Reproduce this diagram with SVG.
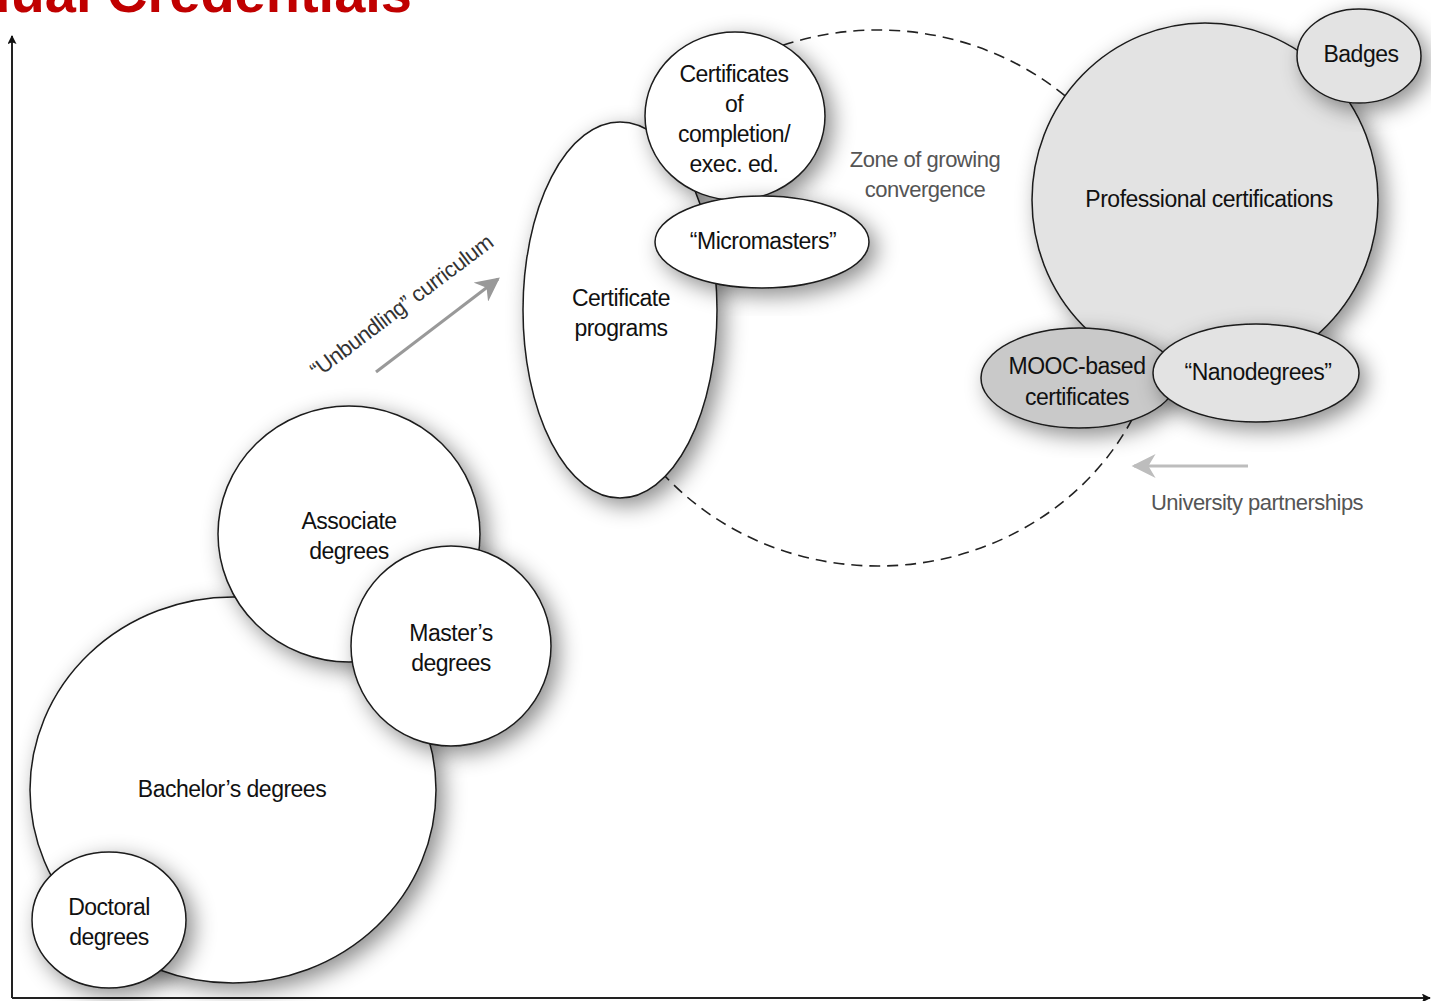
<svg xmlns="http://www.w3.org/2000/svg" width="1431" height="1001" viewBox="0 0 1431 1001">
<style>
.node{stroke:#1a1a1a;stroke-width:1.5;filter:url(#sh)}
.w{fill:#ffffff}
.g{fill:#e3e3e3}
.d{fill:#c9c9c9}
.t{font-family:"Liberation Sans",Arial,sans-serif;font-size:23px;letter-spacing:-0.5px;fill:#111;text-anchor:middle}
.lab{font-family:"Liberation Sans",Arial,sans-serif;font-size:22px;letter-spacing:-0.5px;fill:#555;text-anchor:middle}
.axis{stroke:#222;stroke-width:2;fill:none}
</style>
<defs>
<filter id="sh" x="-30%" y="-30%" width="160%" height="160%">
<feDropShadow dx="7" dy="7" stdDeviation="11" flood-color="#000" flood-opacity="0.45"/>
</filter>
<marker id="ah" viewBox="0 0 10 10" refX="9" refY="5" markerWidth="12" markerHeight="9" orient="auto" markerUnits="userSpaceOnUse">
<path d="M0,0 L10,5 L0,10 L2,5 z" fill="#111"/>
</marker>
<marker id="gah" viewBox="0 0 10 10" refX="9" refY="5" markerWidth="8" markerHeight="8" orient="auto">
<path d="M0,0 L10,5 L0,10 L3,5 z" fill="#999"/>
</marker>
<marker id="lah" viewBox="0 0 10 10" refX="9" refY="5" markerWidth="9" markerHeight="8" orient="auto">
<path d="M0,0 L10,5 L0,10 L3,5 z" fill="#bdbdbd"/>
</marker>
</defs>
<rect width="1431" height="1001" fill="#fff"/>
<text x="412" y="12" font-family="Liberation Sans,Arial,sans-serif" font-weight="bold" font-size="56" fill="#c00000" text-anchor="end">dual Credentials</text>

<g id="connectors">
<line class="axis" x1="12" y1="998" x2="12" y2="36" marker-end="url(#ah)"/>
<line class="axis" x1="12" y1="998" x2="1430" y2="998" marker-end="url(#ah)"/>
<ellipse cx="878" cy="298" rx="285" ry="268" fill="none" stroke="#222" stroke-width="1.6" stroke-dasharray="11 7"/>
<line x1="376" y1="372" x2="498" y2="279" stroke="#999" stroke-width="3" marker-end="url(#gah)"/>
<line x1="1248" y1="466" x2="1134" y2="466" stroke="#bdbdbd" stroke-width="3" marker-end="url(#lah)"/>
</g>

<g id="bachelors"><ellipse class="node w" cx="233" cy="790" rx="203" ry="193"/><text class="t" x="232" y="797">Bachelor’s degrees</text></g>
<g id="associate"><ellipse class="node w" cx="349" cy="534" rx="131" ry="128"/><text class="t" x="349" y="529">Associate</text><text class="t" x="349" y="559">degrees</text></g>
<g id="masters"><ellipse class="node w" cx="451" cy="646" rx="100" ry="100"/><text class="t" x="451" y="641">Master’s</text><text class="t" x="451" y="671">degrees</text></g>
<g id="doctoral"><ellipse class="node w" cx="109" cy="920" rx="77" ry="68"/><text class="t" x="109" y="915">Doctoral</text><text class="t" x="109" y="945">degrees</text></g>

<g id="certificate-programs"><ellipse class="node w" cx="620" cy="310" rx="97" ry="188"/><text class="t" x="621" y="306">Certificate</text><text class="t" x="621" y="336">programs</text></g>
<g id="certificates-completion"><ellipse class="node w" cx="735" cy="116" rx="90" ry="84"/><text class="t" x="734" y="82">Certificates</text><text class="t" x="734" y="112">of</text><text class="t" x="734" y="142">completion/</text><text class="t" x="734" y="172">exec. ed.</text></g>
<g id="micromasters"><ellipse class="node w" cx="762" cy="242" rx="107" ry="46"/><text class="t" x="763" y="249">“Micromasters”</text></g>

<g id="professional"><ellipse class="node g" cx="1205" cy="200" rx="173" ry="177"/><text class="t" x="1209" y="207">Professional certifications</text></g>
<g id="badges"><ellipse class="node g" cx="1359" cy="56" rx="62" ry="47"/><text class="t" x="1361" y="62">Badges</text></g>
<g id="mooc"><ellipse class="node d" cx="1079" cy="378" rx="98" ry="50"/><text class="t" x="1077" y="374">MOOC-based</text><text class="t" x="1077" y="405">certificates</text></g>
<g id="nanodegrees"><ellipse class="node g" cx="1256" cy="373" rx="103" ry="49"/><text class="t" x="1258" y="380">“Nanodegrees”</text></g>

<g id="labels">
<text class="lab" x="925" y="167">Zone of growing</text>
<text class="lab" x="925" y="197">convergence</text>
<text class="lab" x="1257" y="510">University partnerships</text>
<text class="lab" x="406" y="312" style="fill:#333" transform="rotate(-37 406 312)">“Unbundling” curriculum</text>
</g>
</svg>
